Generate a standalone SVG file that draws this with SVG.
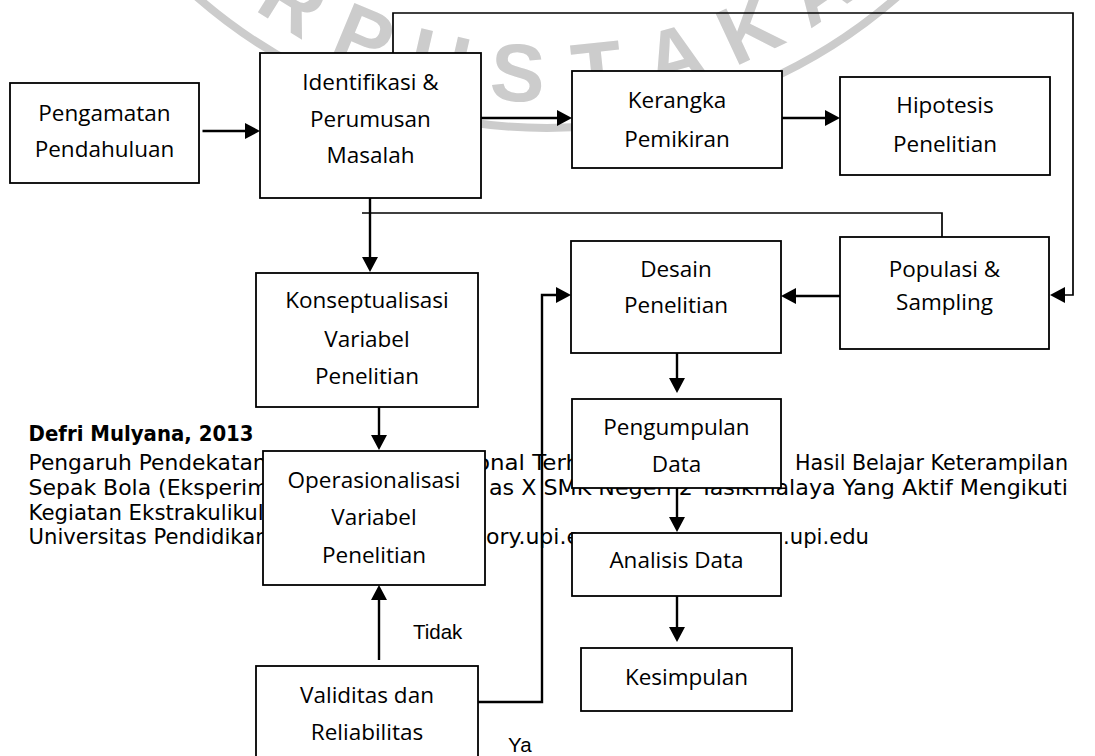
<svg xmlns="http://www.w3.org/2000/svg" width="1095" height="756" viewBox="0 0 1095 756">
<defs>
<style>
.box{fill:#fff;stroke:#000;stroke-width:1.8}
.nt{font-family:"Open Sans","Noto Sans",sans-serif;font-size:22.5px;fill:#000;text-anchor:middle}
.ft{font-family:"DejaVu Sans",sans-serif;font-size:21px;fill:#000}
.lbl{font-family:"Liberation Sans",Arial,sans-serif;font-size:20.5px;fill:#000}
.wm{font-family:"Liberation Sans",Arial,sans-serif;font-weight:bold;font-size:82px;fill:#cccccc;text-anchor:middle}
.ar{fill:none;stroke:#000;stroke-width:2.4}
.ln{fill:none;stroke:#000;stroke-width:1.7}
</style>
<marker id="ah" viewBox="0 0 15 16" refX="5" refY="8" markerWidth="15" markerHeight="16" markerUnits="userSpaceOnUse" orient="auto"><path d="M0,0 L15,8 L0,16 z" fill="#000"/></marker>
</defs>
<rect width="1095" height="756" fill="#fff"/>
<g id="watermark">
<circle cx="547" cy="-405" r="533" fill="none" stroke="#cccccc" stroke-width="8"/>
<text class="wm" x="547" y="102" transform="rotate(32 547 -405)">R</text>
<text class="wm" x="547" y="102" transform="rotate(22.5 547 -405)">P</text>
<text class="wm" x="547" y="102" transform="rotate(13 547 -405)">U</text>
<text class="wm" x="547" y="102" transform="rotate(3.5 547 -405)">S</text>
<text class="wm" x="547" y="102" transform="rotate(-6 547 -405)">T</text>
<text class="wm" x="547" y="102" transform="rotate(-15.5 547 -405)">A</text>
<text class="wm" x="547" y="102" transform="rotate(-25 547 -405)">K</text>
<text class="wm" x="547" y="102" transform="rotate(-34.5 547 -405)">A</text>
</g>
<g id="footer">
<text class="ft" x="28.6" y="441" font-weight="bold" textLength="225" lengthAdjust="spacingAndGlyphs">Defri Mulyana, 2013</text>
<text class="ft" x="28.6" y="470" textLength="238" lengthAdjust="spacingAndGlyphs">Pengaruh Pendekatan</text>
<text class="ft" x="476" y="470" textLength="104" lengthAdjust="spacingAndGlyphs">onal Terh</text>
<text class="ft" x="795" y="470" textLength="273" lengthAdjust="spacingAndGlyphs">Hasil Belajar Keterampilan</text>
<text class="ft" x="28.6" y="495" textLength="240" lengthAdjust="spacingAndGlyphs">Sepak Bola (Eksperim</text>
<text class="ft" x="489" y="495" textLength="579" lengthAdjust="spacingAndGlyphs">as X SMK Negeri 2 Tasikmalaya Yang Aktif Mengikuti</text>
<text class="ft" x="28.6" y="520" textLength="235" lengthAdjust="spacingAndGlyphs">Kegiatan Ekstrakulikul</text>
<text class="ft" x="28.6" y="544" textLength="240" lengthAdjust="spacingAndGlyphs">Universitas Pendidikan</text>
<text class="ft" x="486" y="544" textLength="94" lengthAdjust="spacingAndGlyphs">ory.upi.e</text>
<text class="ft" x="783" y="544" textLength="86" lengthAdjust="spacingAndGlyphs">.upi.edu</text>
</g>
<g id="n-pengamatan"><rect class="box" x="10" y="83" width="189" height="100"/><text class="nt" x="104.5" y="121">Pengamatan</text><text class="nt" x="104.5" y="157">Pendahuluan</text></g>
<g id="n-identifikasi"><rect class="box" x="260" y="53" width="221" height="145"/><text class="nt" x="370.5" y="90">Identifikasi &amp;</text><text class="nt" x="370.5" y="127">Perumusan</text><text class="nt" x="370.5" y="163">Masalah</text></g>
<g id="n-kerangka"><rect class="box" x="572" y="71" width="210" height="97"/><text class="nt" x="677" y="108">Kerangka</text><text class="nt" x="677" y="147">Pemikiran</text></g>
<g id="n-hipotesis"><rect class="box" x="840" y="77" width="210" height="98"/><text class="nt" x="945" y="113">Hipotesis</text><text class="nt" x="945" y="152">Penelitian</text></g>
<g id="n-konseptualisasi"><rect class="box" x="256" y="273" width="222" height="134"/><text class="nt" x="367" y="308">Konseptualisasi</text><text class="nt" x="367" y="347">Variabel</text><text class="nt" x="367" y="384">Penelitian</text></g>
<g id="n-desain"><rect class="box" x="571" y="241" width="210" height="112"/><text class="nt" x="676" y="277">Desain</text><text class="nt" x="676" y="313">Penelitian</text></g>
<g id="n-populasi"><rect class="box" x="840" y="237" width="209" height="112"/><text class="nt" x="944.5" y="277">Populasi &amp;</text><text class="nt" x="944.5" y="310">Sampling</text></g>
<g id="n-operasionalisasi"><rect class="box" x="263" y="451" width="222" height="134"/><text class="nt" x="374" y="488">Operasionalisasi</text><text class="nt" x="374" y="525">Variabel</text><text class="nt" x="374" y="563">Penelitian</text></g>
<g id="n-pengumpulan"><rect class="box" x="572" y="399" width="209" height="89"/><text class="nt" x="676.5" y="435">Pengumpulan</text><text class="nt" x="676.5" y="472">Data</text></g>
<g id="n-analisis"><rect class="box" x="572" y="533" width="209" height="63"/><text class="nt" x="676.5" y="568">Analisis Data</text></g>
<g id="n-kesimpulan"><rect class="box" x="581" y="648" width="211" height="63"/><text class="nt" x="686.5" y="685">Kesimpulan</text></g>
<g id="n-validitas"><rect class="box" x="256" y="666" width="222" height="110"/><text class="nt" x="367" y="702.5">Validitas dan</text><text class="nt" x="367" y="739.5">Reliabilitas</text></g>
<g id="connectors">
<path class="ar" d="M202.5,131 H250" marker-end="url(#ah)"/>
<path class="ar" d="M481,118 H562" marker-end="url(#ah)"/>
<path class="ar" d="M782,118 H830" marker-end="url(#ah)"/>
<path class="ln" d="M393,53 V13 H1073 V295 H1060" marker-end="url(#ah)"/>
<path class="ar" d="M370,198 V262" marker-end="url(#ah)"/>
<path class="ln" d="M942,237 V213 H362"/>
<path class="ar" d="M840,296 H791" marker-end="url(#ah)"/>
<path class="ar" d="M677,353 V383" marker-end="url(#ah)"/>
<path class="ar" d="M379,407 V440" marker-end="url(#ah)"/>
<path class="ar" d="M379,660 V595" marker-end="url(#ah)"/>
<path class="ar" d="M478,702 H542 V295 H561" marker-end="url(#ah)"/>
<path class="ar" d="M677,488 V522" marker-end="url(#ah)"/>
<path class="ar" d="M677,596 V632" marker-end="url(#ah)"/>
<text class="lbl" x="413" y="639">Tidak</text>
<text class="lbl" x="508" y="752">Ya</text>
</g>
</svg>
